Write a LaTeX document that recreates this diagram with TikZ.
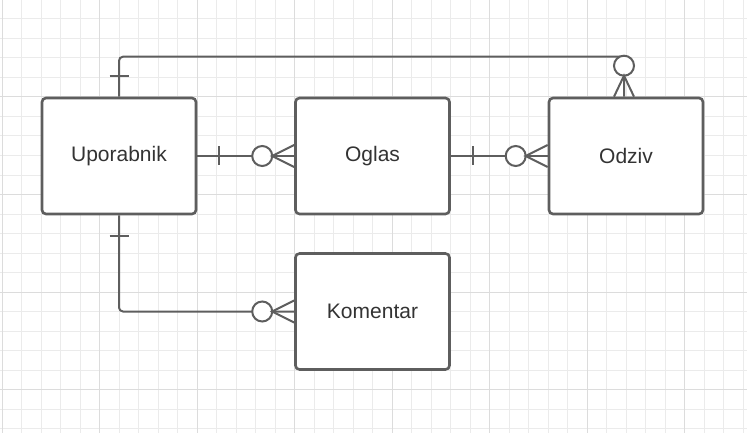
\documentclass[tikz,border=0pt]{standalone}
\usepackage{fontspec}
\setmainfont{Liberation Sans}
\usepackage{tikz}
\usetikzlibrary{calc}
\definecolor{linegray}{HTML}{5E5E5E}
\definecolor{textgray}{HTML}{333333}
\definecolor{gridminor}{HTML}{EBEBEB}
\definecolor{gridmajor}{HTML}{DCDCDC}

\begin{document}
\begin{tikzpicture}[x=1pt, y=-1pt,
  entity/.style={draw=linegray, line width=2.6pt, rounded corners=4pt, fill=white,
    minimum width=154pt, minimum height=116pt, inner sep=0pt,
    text=textgray, font=\fontsize{21}{25}\selectfont},
  rel/.style={draw=linegray, line width=2pt}]
\useasboundingbox (0,0) rectangle (747,433);

% grid
\foreach \i in {0,...,38}
  \draw[gridminor, line width=1pt] ({2+19.5*\i},0) -- ({2+19.5*\i},433);
\foreach \j in {0,...,22}
  \draw[gridminor, line width=1pt] (0,{-0.5+19.5*\j}) -- (747,{-0.5+19.5*\j});
\foreach \i in {0,...,7}
  \draw[gridmajor, line width=1pt] ({2+97.5*\i},0) -- ({2+97.5*\i},433);
\foreach \j in {1,...,4}
  \draw[gridmajor, line width=1pt] (0,{-0.5+97.5*\j}) -- (747,{-0.5+97.5*\j});

% entities
\node[entity] (upor) at (119,156) {Uporabnik};
\node[entity] (oglas) at (372.5,156) {Oglas};
\node[entity] (odziv) at (626,156) {Odziv};
\node[entity] (koment) at (372.5,311.5) {Komentar};
\coordinate (odzivtop) at ($(odziv.north)+(-2,0)$);

% Uporabnik -- Oglas
\draw[rel] (upor.east) -- (oglas.west);
\draw[rel] ($(upor.east)+(22,-9.5)$) -- ($(upor.east)+(22,9.5)$);
\draw[rel, fill=white] ($(oglas.west)+(-32,0)$) circle[radius=10pt];
\draw[rel] ($(oglas.west)+(0,-11)$) -- ($(oglas.west)+(-22,0)$) -- ($(oglas.west)+(0,11)$);

% Oglas -- Odziv
\draw[rel] (oglas.east) -- (odziv.west);
\draw[rel] ($(oglas.east)+(22,-9.5)$) -- ($(oglas.east)+(22,9.5)$);
\draw[rel, fill=white] ($(odziv.west)+(-32,0)$) circle[radius=10pt];
\draw[rel] ($(odziv.west)+(0,-11)$) -- ($(odziv.west)+(-22,0)$) -- ($(odziv.west)+(0,11)$);

% Uporabnik -- Odziv
\draw[rel, rounded corners=4pt] (upor.north) -- ++(0,-40) -| (odzivtop);
\draw[rel] ($(upor.north)+(-9.5,-21)$) -- ($(upor.north)+(9.5,-21)$);
\draw[rel, fill=white] ($(odzivtop)+(0,-31)$) circle[radius=10pt];
\draw[rel] ($(odzivtop)+(-10,0)$) -- ($(odzivtop)+(0,-21)$) -- ($(odzivtop)+(10,0)$);

% Uporabnik -- Komentar
\draw[rel, rounded corners=4pt] (upor.south) |- (koment.west);
\draw[rel] ($(upor.south)+(-9.5,21)$) -- ($(upor.south)+(9.5,21)$);
\draw[rel, fill=white] ($(koment.west)+(-32,0)$) circle[radius=10pt];
\draw[rel] ($(koment.west)+(0,-11)$) -- ($(koment.west)+(-22,0)$) -- ($(koment.west)+(0,11)$);

\end{tikzpicture}
\end{document}
